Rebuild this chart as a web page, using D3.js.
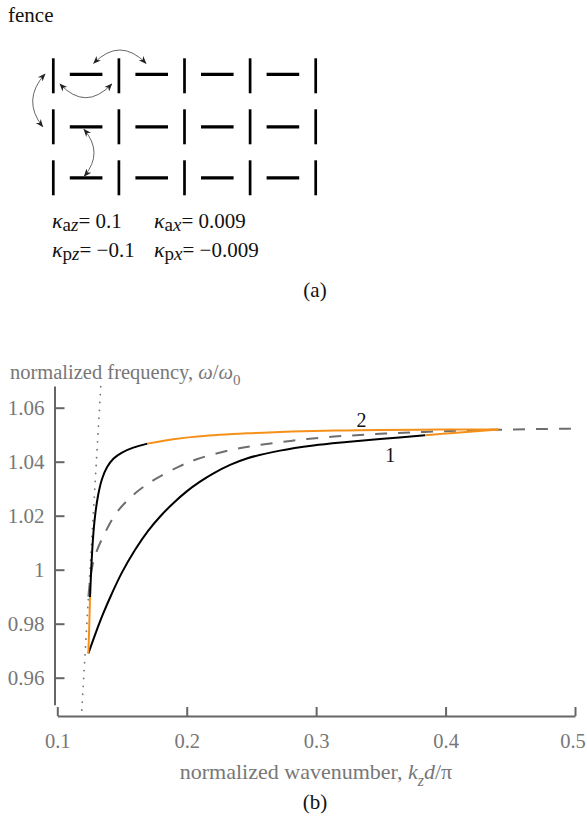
<!DOCTYPE html>
<html>
<head>
<meta charset="utf-8">
<script src="https://cdn.jsdelivr.net/npm/d3@7"></script>
<style>
  html, body { margin: 0; padding: 0; background: #fff; }
  svg, svg text { font-family: "Liberation Serif", "Times New Roman", Times, "Nimbus Roman", "DejaVu Serif", serif; }
</style>
</head>
<body>
<svg id="chart" width="587" height="822"></svg>
<script>
// ---------- data ----------
// fence lattice (a)
const latticeRows = [0, 1, 2];
const latticeVerticalCols = [0, 1, 2, 3, 4];
const latticeHorizontalCols = [0.5, 1.5, 2.5, 3.5];
// coupling arcs in lattice units: [x0, y0, cx, cy, x1, y1]
const couplingArcs = [
  [0.616, -0.245, 1.015, -0.766, 1.413, -0.245],
  [0.102, 0.161, 0.494, 0.698, 0.890, 0.161],
  [-0.127, -0.035, -0.484, 0.475, -0.162, 0.998],
  [0.468, 1.052, 0.771, 1.507, 0.473, 1.967]
];
const kappaLabels = [
  { sub: "a", comp: "z", value: "0.1" },
  { sub: "a", comp: "x", value: "0.009" },
  { sub: "p", comp: "z", value: "\u22120.1" },
  { sub: "p", comp: "x", value: "\u22120.009" }
];

// dispersion (b)
const xTicks = [0.1, 0.2, 0.3, 0.4, 0.5];
const xTickLabels = ["0.1", "0.2", "0.3", "0.4", "0.5"];
const yTicks = [0.96, 0.98, 1.00, 1.02, 1.04, 1.06];
const yTickLabels = ["0.96", "0.98", "1", "1.02", "1.04", "1.06"];

// light line (dotted)
const lightK = [0.1189, 0.1336];
const lightW = [0.948, 1.068];

// dashed reference curve
const dashedK = [0.1240, 0.1262, 0.1291, 0.1372, 0.1469, 0.1604, 0.1763, 0.1940, 0.2083, 0.2346, 0.2536, 0.2733, 0.2930, 0.3138, 0.3339, 0.3532, 0.3726, 0.3930, 0.4128, 0.4325, 0.4529, 0.4730, 0.4931, 0.5000];
const dashedW = [0.9900, 0.9990, 1.0051, 1.0140, 1.0218, 1.0284, 1.0337, 1.0382, 1.0410, 1.0444, 1.0460, 1.0473, 1.0484, 1.0493, 1.0499, 1.0504, 1.0508, 1.0512, 1.0515, 1.0518, 1.0519, 1.0521, 1.0522, 1.0523];

// branch 1 (lower): black part then orange part
const branch1BlackK = [0.1240, 0.1300, 0.1355, 0.1420, 0.1500, 0.1600, 0.1700, 0.1800, 0.1900, 0.2000, 0.2100, 0.2200, 0.2335, 0.2464, 0.2721, 0.2978, 0.3236, 0.3494, 0.3842];
const branch1BlackW = [0.9690, 0.9770, 0.9838, 0.9910, 0.9990, 1.0073, 1.0143, 1.0200, 1.0248, 1.0290, 1.0325, 1.0355, 1.0388, 1.0412, 1.0441, 1.0460, 1.0473, 1.0484, 1.0498];
const branch1OrangeK = [0.3842, 0.4112, 0.4408];
const branch1OrangeW = [1.0498, 1.0508, 1.0519];

// branch 2 (upper): orange near cusp, black, then orange to the tip
const branch2OrangeLowK = [0.1240, 0.1247, 0.1253];
const branch2OrangeLowW = [0.9690, 0.9795, 0.9899];
const branch2BlackK = [0.1253, 0.1262, 0.1275, 0.1292, 0.1315, 0.1345, 0.1385, 0.1435, 0.1500, 0.1587, 0.1696];
const branch2BlackW = [0.9899, 1.0000, 1.0110, 1.0200, 1.0275, 1.0335, 1.0380, 1.0412, 1.0434, 1.0452, 1.0467];
const branch2OrangeHighK = [0.1696, 0.1896, 0.2103, 0.2464, 0.2721, 0.2978, 0.3236, 0.3494, 0.3957, 0.4408];
const branch2OrangeHighW = [1.0467, 1.0483, 1.0494, 1.0505, 1.0510, 1.0514, 1.0516, 1.0517, 1.0519, 1.0519];

const curveLabels = [
  { text: "1", k: 0.3572, w: 1.0400 },
  { text: "2", k: 0.3350, w: 1.0528 }
];

// ---------- drawing ----------
const FONT = "'Liberation Serif', 'Times New Roman', Times, 'Nimbus Roman', 'DejaVu Serif', serif";
const svg = d3.select("#chart");
const ORANGE = "#f5911a";
const AXIS = "#666";
const LABEL = "#777";

const txt = (sel) => sel.append("text").attr("font-family", FONT);

// ----- (a) fence -----
txt(svg).attr("x", 8).attr("y", 22).attr("font-size", 21).attr("fill", "#111").text("fence");

const lx = d3.scaleLinear().domain([0, 4]).range([53.3, 315.7]);
const ly = d3.scaleLinear().domain([0, 2]).range([75.8, 177.8]);
const vHalf = 17.5, hHalf = 16.3;

const gFence = svg.append("g");
latticeRows.forEach(r => {
  latticeVerticalCols.forEach(c => {
    gFence.append("line")
      .attr("x1", lx(c)).attr("x2", lx(c))
      .attr("y1", ly(r) - vHalf).attr("y2", ly(r) + vHalf)
      .attr("stroke", "#000").attr("stroke-width", 2.7);
  });
  latticeHorizontalCols.forEach(c => {
    gFence.append("line")
      .attr("x1", lx(c) - hHalf).attr("x2", lx(c) + hHalf)
      .attr("y1", ly(r) - (r === 0 ? 1.5 : 0)).attr("y2", ly(r) - (r === 0 ? 1.5 : 0))
      .attr("stroke", "#000").attr("stroke-width", 3.3);
  });
});

const defs = svg.append("defs");
defs.append("marker").attr("id", "ah")
  .attr("viewBox", "0 0 10 10").attr("refX", 9).attr("refY", 5)
  .attr("markerWidth", 8).attr("markerHeight", 8)
  .attr("markerUnits", "userSpaceOnUse")
  .attr("orient", "auto-start-reverse")
  .append("path").attr("d", "M0,1 L10,5 L0,9 L3,5 Z").attr("fill", "#222");

const rowUnit = (ly(1) - ly(0));
const colUnit = (lx(1) - lx(0));
const ax = v => lx(0) + v * colUnit;
const ay = v => ly(0) + v * rowUnit;
couplingArcs.forEach(a => {
  const p = d3.path();
  p.moveTo(ax(a[0]), ay(a[1]));
  p.quadraticCurveTo(ax(a[2]), ay(a[3]), ax(a[4]), ay(a[5]));
  gFence.append("path").attr("d", p.toString())
    .attr("fill", "none").attr("stroke", "#555").attr("stroke-width", 0.9)
    .attr("marker-start", "url(#ah)").attr("marker-end", "url(#ah)");
});

// kappa labels
const kx = [52, 154];
const kyBase = [228, 257];
kappaLabels.forEach((d, i) => {
  const t = txt(svg)
    .attr("x", kx[i % 2]).attr("y", kyBase[Math.floor(i / 2)])
    .attr("font-size", 21).attr("fill", "#111");
  t.append("tspan").attr("font-style", "italic").attr("font-size", 22).text("\u03ba");
  t.append("tspan").attr("font-size", 19).attr("dy", 3).text(d.sub);
  t.append("tspan").attr("font-size", 19).attr("font-style", "italic").text(d.comp);
  t.append("tspan").attr("dy", -3).text("= " + d.value);
});

txt(svg).attr("x", 315).attr("y", 297).attr("text-anchor", "middle")
  .attr("font-size", 21).attr("fill", "#111").text("(a)");

// ----- (b) dispersion -----
const x = d3.scaleLinear().domain([0.1, 0.5]).range([57.3, 575]);
const y = d3.scaleLinear().domain([0.95, 1.068]).range([704.7, 386.1]);

const xAxisY = 716;
const yAxisX = 54.5;

const xAxis = d3.axisBottom(x).tickValues(xTicks)
  .tickFormat((d, i) => xTickLabels[i])
  .tickSizeInner(-9).tickSizeOuter(0).tickPadding(17);
const gx = svg.append("g").attr("transform", `translate(0,${xAxisY})`).call(xAxis)
  .attr("font-family", FONT);
gx.select(".domain").attr("stroke", AXIS).attr("stroke-width", 2);
gx.selectAll(".tick line").attr("stroke", AXIS).attr("stroke-width", 2);
gx.selectAll(".tick text").attr("fill", LABEL).attr("font-size", 20.5).attr("font-family", FONT)
  .attr("dx", (d, i) => i === xTicks.length - 1 ? -2.5 : 0);

const yAxis = d3.axisLeft(y).tickValues(yTicks)
  .tickFormat((d, i) => yTickLabels[i])
  .tickSizeInner(-10).tickSizeOuter(0).tickPadding(10);
const gy = svg.append("g").attr("transform", `translate(${yAxisX},0)`).call(yAxis)
  .attr("font-family", FONT);
gy.select(".domain").attr("stroke", AXIS).attr("stroke-width", 2);
gy.selectAll(".tick line").attr("stroke", AXIS).attr("stroke-width", 2);
gy.selectAll(".tick text").attr("fill", LABEL).attr("font-size", 21).attr("font-family", FONT);

// axis titles
const yt = txt(svg).attr("x", 10).attr("y", 379).attr("font-size", 20.5).attr("fill", LABEL);
yt.append("tspan").text("normalized frequency, ");
yt.append("tspan").attr("font-style", "italic").text("\u03c9");
yt.append("tspan").text("/");
yt.append("tspan").attr("font-style", "italic").text("\u03c9");
yt.append("tspan").attr("font-size", 15).attr("dy", 6).text("0");

const xt = txt(svg).attr("x", 316).attr("y", 779).attr("text-anchor", "middle")
  .attr("font-size", 22).attr("fill", LABEL);
xt.append("tspan").text("normalized wavenumber, ");
xt.append("tspan").attr("font-style", "italic").text("k");
xt.append("tspan").attr("font-style", "italic").attr("font-size", 16).attr("dy", 7).text("z");
xt.append("tspan").attr("font-style", "italic").attr("dy", -7).text("d");
xt.append("tspan").text("/\u03c0");

txt(svg).attr("x", 315).attr("y", 809).attr("text-anchor", "middle")
  .attr("font-size", 21).attr("fill", "#111").text("(b)");

// curves
const line = d3.line().x(d => x(d[0])).y(d => y(d[1])).curve(d3.curveCatmullRom.alpha(0.5));
const zip = (a, b) => a.map((v, i) => [v, b[i]]);

const gPlot = svg.append("g");
gPlot.append("path").attr("d", d3.line().x(d => x(d[0])).y(d => y(d[1]))(zip(lightK, lightW)))
  .attr("fill", "none").attr("stroke", "#777").attr("stroke-width", 1.8)
  .attr("stroke-linecap", "round").attr("stroke-dasharray", "0.1,7.8");

gPlot.append("path").attr("d", line(zip(dashedK, dashedW)))
  .attr("fill", "none").attr("stroke", "#6e6e6e").attr("stroke-width", 2)
  .attr("stroke-dasharray", "12,11");

const seg = (k, w, color) => gPlot.append("path").attr("d", line(zip(k, w)))
  .attr("fill", "none").attr("stroke", color).attr("stroke-width", 2)
  .attr("stroke-linejoin", "round");

seg(branch1BlackK, branch1BlackW, "#000");
seg(branch2BlackK, branch2BlackW, "#000");
seg(branch1OrangeK, branch1OrangeW, ORANGE);
seg(branch2OrangeHighK, branch2OrangeHighW, ORANGE);
seg(branch2OrangeLowK, branch2OrangeLowW, ORANGE);

curveLabels.forEach(d => {
  txt(svg).attr("x", x(d.k)).attr("y", y(d.w)).attr("text-anchor", "middle")
    .attr("font-size", 20).attr("fill", "#111").text(d.text);
});
</script>
</body>
</html>
